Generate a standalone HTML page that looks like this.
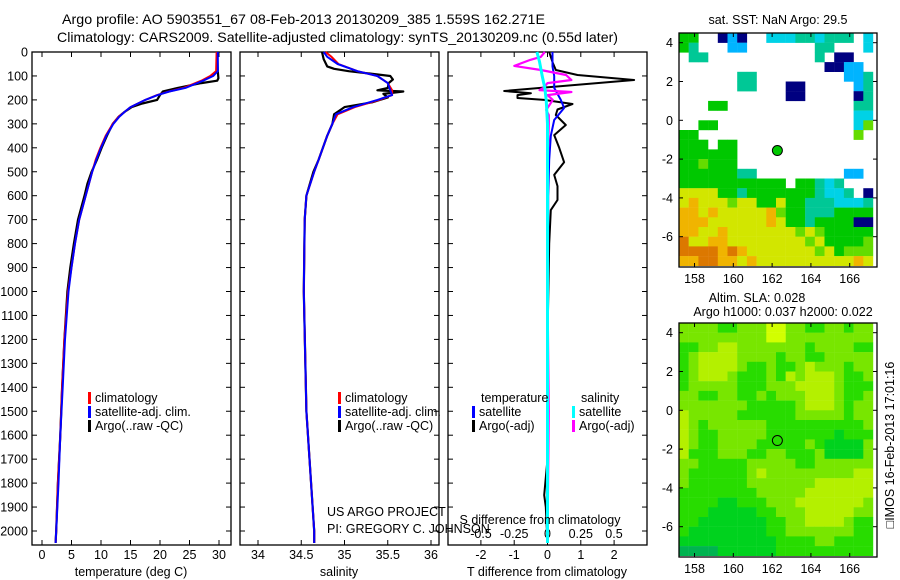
<!DOCTYPE html>
<html><head><meta charset="utf-8"><style>
body{margin:0;background:#fff;}
svg{display:block;font-family:"Liberation Sans",sans-serif;}
text{font-size:12.5px;fill:#000;}
</style></head><body>
<svg id="fig" width="900" height="580" viewBox="0 0 900 580" xmlns="http://www.w3.org/2000/svg">
<text x="62" y="24" textLength="483" lengthAdjust="spacingAndGlyphs" style="font-size:14px">Argo profile: AO 5903551_67 08-Feb-2013 20130209_385 1.559S 162.271E</text>
<text x="57" y="42" textLength="561" lengthAdjust="spacingAndGlyphs" style="font-size:14px">Climatology: CARS2009. Satellite-adjusted climatology: synTS_20130209.nc (0.55d later)</text>
<g id="panels"></g>
<text x="131" y="576" text-anchor="middle">temperature (deg C)</text>
<text x="339" y="576" text-anchor="middle">salinity</text>
<text x="547" y="576" text-anchor="middle">T difference from climatology</text>
<text x="540" y="524" text-anchor="middle">S difference from climatology</text>
<text x="327" y="516">US ARGO PROJECT</text>
<text x="327" y="533">PI: GREGORY C. JOHNSON</text>
<text x="778" y="24" text-anchor="middle">sat. SST: NaN Argo: 29.5</text>
<text x="757" y="302" text-anchor="middle">Altim. SLA: 0.028</text>
<text x="783" y="316" text-anchor="middle">Argo h1000: 0.037 h2000: 0.022</text>
<text transform="translate(894,445) rotate(-90)" text-anchor="middle">□IMOS 16-Feb-2013 17:01:16</text>
</svg>
<script>
// ---- profile data (depth in m) ----
const argoTDepth=[0,80,110,120,130,150,165,180,200,215,230,250,270,300,350,400,450,500,550,600,700,800,900,1000,1200,1400,1600,1800,2000,2050];
const argoT=[29.7,29.8,29.9,29.7,27,23,20.5,20,19.5,17,15.2,14,13,12,11,10.1,9.3,8.4,7.7,7.2,6.1,5.4,4.8,4.3,3.8,3.4,3.1,2.7,2.4,2.3];
const climTDepth=[0,80,100,120,150,165,180,200,230,250,270,300,350,400,450,500,600,700,800,900,1000,1200,1400,1600,1800,2000,2050];
const climT=[29.6,29.5,28.5,27,24,21.5,19.5,17.5,15,14,13,12,10.8,9.9,9.1,8.5,7.4,6.3,5.6,5.0,4.4,3.8,3.4,3.1,2.7,2.4,2.3];
const satT=[29.8,29.8,29,27.3,24.3,21.6,19.6,17.5,15,14,13.1,12.1,10.9,10,9.2,8.5,7.4,6.3,5.6,5.0,4.5,3.9,3.5,3.1,2.8,2.4,2.3];
const argoSDepth=[0,30,60,70,80,90,100,115,130,150,160,165,175,190,210,230,260,300,350,400,450,500,550,600,700,1000,1500,2000,2050];
const argoS=[34.74,34.76,34.8,34.88,35.05,35.3,35.53,35.56,35.51,35.5,35.38,35.68,35.45,35.5,35.32,35.0,34.88,34.86,34.8,34.75,34.7,34.64,34.6,34.56,34.54,34.53,34.56,34.65,34.65];
const climSDepth=[0,20,50,80,100,130,160,180,200,230,260,300,350,400,450,500,600,700,1000,1500,2000,2050];
const climS=[34.78,34.85,34.93,35.15,35.38,35.5,35.55,35.55,35.4,35.12,34.92,34.86,34.8,34.75,34.7,34.65,34.56,34.54,34.53,34.56,34.65,34.65];
const satS=[34.76,34.8,34.92,35.15,35.38,35.5,35.53,35.55,35.38,35.1,34.9,34.86,34.8,34.75,34.7,34.65,34.56,34.54,34.53,34.56,34.65,34.65];
// differences
const dTArgoDepth=[0,42,75,96,117,163,172,180,192,200,217,240,263,305,347,400,460,513,560,618,660,800,1200,1700,1850,1900,2050];
const dTArgo=[0.05,0.15,0.25,0.9,2.6,-1.3,-0.5,-0.9,-0.9,-0.1,0.75,0.3,0.25,0.55,0.2,0.35,0.5,0.2,0.3,0.3,0.1,0.05,0.0,0.0,-0.1,-0.05,0.0];
const dTSatDepth=[0,60,100,150,200,234,284,350,450,600,2050];
const dTSat=[0.15,0.15,0.2,0.2,0.4,0.5,0.2,0.1,0.05,0.02,0.0];
const dSArgoDepth=[0,20,33,58,75,96,117,130,150,159,167,180,200,242,263,300,500,1000,1500,2050];
const dSArgo=[-0.02,-0.05,-0.13,-0.25,-0.05,0.14,0.18,0.0,-0.03,-0.06,0.18,0.0,0.04,-0.01,0.01,0.01,0.0,0.0,0.01,0.0];
const dSSatDepth=[0,40,100,150,200,300,2050];
const dSSat=[-0.08,-0.06,-0.04,-0.02,-0.01,0.0,0.0];
const depthTicks=[0,100,200,300,400,500,600,700,800,900,1000,1100,1200,1300,1400,1500,1600,1700,1800,1900,2000];
const tTicks=[0,5,10,15,20,25,30];
const sTicks=[34,34.5,35,35.5,36];
const dtTicks=[-2,-1,0,1,2];
const dsTicks=[-0.5,-0.25,0,0.25,0.5];
// ---- map data: 20 cols (157.2..167.2E, 0.5deg) x 24 rows (4.5..-7.5N) ----
const sstGrid=[
"gg..nbn..cccttcttt.c","gt...bb.......tt...c",".tt...........t.nn..","...............nnbb.",
"......tt.........bbt","......tt...nn.....bt","...........nn.....nt","...gg.............tt",
"..................cc","..gg..............cl","gg................l.","ggg.gg..............",
"gggggg..............","gglggg..............","ggggggtt.........bb.","ggggggggggg.ggtct...",
"yyyyggtgggggggtcct.n","yoyyylyyggyggtttccct","ooyoyyyyyolggtttgggg","oooyyyyyyoyggtggggnn",
"ooyyoyyyyyyylylggggg","ryyooyyyyyyyylyggggl","rrrroroyyyyyyylyglll","oorrooyoyyyyyyyyyyoy"];
const slaGrid=[
"llllgglllYYllggllgll","lllllllllYYlllllllll","ggllyylllllllgllllgg","glyyyyllllgllgglllll",
"glyyyylgglgglylllgll","glyyylggglgylyyylggl","glllllggglllyyyylggg","llggllgglglllyyylggl",
"lllllllggggglyyylgll","ylllllgggggglllllgll","ylgllllllggggggggggl","ylgglllllgggggggdggg",
"ylggllllggggglgddddl","yggglllggllggglddddl","llggggglllllgglllllly","lgggggglylllllllllyy",
"lgggggglllllllyyyyyy","gggggggglllllyyyyyyy","ggggddggglllyyyyyyyl","gggdddddgglllyyyyyll",
"ggdddddddggllyyyylgg","gddddddddgglllllllgg","ddddddddddggggllgggg","DDDDddddddgggggggggg"];
const floatLon=162.271, floatLat=-1.559;
const lonTicks=[158,160,162,164,166];
const latTicks=[4,2,0,-2,-4,-6];

const NS='http://www.w3.org/2000/svg';
const G=document.getElementById('panels');
function mk(tag,attrs,parent){const e=document.createElementNS(NS,tag);for(const k in attrs)e.setAttribute(k,attrs[k]);(parent||G).appendChild(e);return e;}
const top0=52,bot=545,pxPerM=0.2395;
const yD=d=>top0+d*pxPerM;
function panel(name,x0,x1,xf,ticksX,labels,showDepth){
  const g=mk('g',{});
  
  
  const r=mk('rect',{x:x0,y:top0,width:x1-x0,height:bot-top0,fill:'none',stroke:'#000','stroke-width':1.3},g);
  
  
  depthTicks.forEach(d=>{
    mk('line',{x1:x0,x2:x0+5,y1:yD(d),y2:yD(d),stroke:'#000'},g);
    mk('line',{x1:x1-5,x2:x1,y1:yD(d),y2:yD(d),stroke:'#000'},g);
    if(showDepth){const t=mk('text',{x:x0-4,y:yD(d)+4.5,'text-anchor':'end'},g);t.textContent=d;
      
      }
  });
  ticksX.forEach(v=>{const x=xf(v);
    mk('line',{x1:x,x2:x,y1:top0,y2:top0+5,stroke:'#000'},g);
    mk('line',{x1:x,x2:x,y1:bot-5,y2:bot,stroke:'#000'},g);
    if(labels){const t=mk('text',{x:x,y:559,'text-anchor':'middle'},g);t.textContent=v;
      
      }
  });
  return g;
}
function line(g,name,xs,ds,xf,color,w){
  const p=xs.map((v,i)=>xf(v).toFixed(1)+','+yD(ds[i]).toFixed(1)).join(' ');
  const l=mk('polyline',{points:p,fill:'none',stroke:color,'stroke-width':w,'stroke-linejoin':'round'},g);
  
  
}
function legend(g,x,y,items){
  items.forEach((it,i)=>{
    mk('rect',{x:x,y:y+i*14-10,width:3,height:12,fill:it[1]},g);
    const t=mk('text',{x:x+7,y:y+i*14},g);t.textContent=it[0];
    
    
  });
}
// panel 1
const xT=v=>42+v*5.9;
let g1=panel('temperature-panel',32,231,xT,tTicks,true,true);
line(g1,'argo-temperature',argoT,argoTDepth,xT,'#000',2.2);
line(g1,'clim-temperature',climT,climTDepth,xT,'#f00',2);
line(g1,'sat-temperature',satT,climTDepth,xT,'#00f',2);
legend(g1,88,402,[['climatology','#f00'],['satellite-adj. clim.','#00f'],['Argo(..raw -QC)','#000']]);
// panel 2
const xS=v=>258+(v-34)*86.5;
let g2=panel('salinity-panel',240,439,xS,sTicks,true,false);
line(g2,'argo-salinity',argoS,argoSDepth,xS,'#000',2.2);
line(g2,'clim-salinity',climS,climSDepth,xS,'#f00',2);
line(g2,'sat-salinity',satS,climSDepth,xS,'#00f',2);
legend(g2,338,402,[['climatology','#f00'],['satellite-adj. clim.','#00f'],['Argo(..raw -QC)','#000']]);
// panel 3
const xdT=v=>547.5+v*33.3, xdS=v=>547.5+v*133;
let g3=panel('difference-panel',448,647,xdT,dtTicks,true,false);
dsTicks.forEach(v=>{const t=mk('text',{x:xdS(v),y:538,'text-anchor':'middle'},g3);t.textContent=v;
  
  });
line(g3,'argo-t-diff',dTArgo,dTArgoDepth,xdT,'#000',2);
line(g3,'sat-t-diff',dTSat,dTSatDepth,xdT,'#00f',2);
line(g3,'argo-s-diff',dSArgo,dSArgoDepth,xdS,'#f0f',2.2);
line(g3,'sat-s-diff',dSSat,dSSatDepth,xdS,'#0ff',3);
let t3=mk('text',{x:481,y:402},g3);t3.textContent='temperature';


t3=mk('text',{x:581,y:402},g3);t3.textContent='salinity';


legend(g3,472,416,[['satellite','#00f'],['Argo(-adj)','#000']]);
legend(g3,572,416,[['satellite','#0ff'],['Argo(-adj)','#f0f']]);
// maps
const sstPal={g:'#00c800',G:'#00b450',t:'#00c896',c:'#00d2e6',b:'#00b4ff',n:'#000080',l:'#64dc00',y:'#d2e600',Y:'#f0e600',o:'#f0b400',r:'#dc7800'};
const slaPal={g:'#28dc00',l:'#78e600',y:'#b4f000',Y:'#d2ff00',d:'#00d21e',D:'#00b450'};
function map(name,y0,grid,pal,filled){
  const x0=679,x1=877,y1=y0+234;
  const lonX=v=>x0+(v-157.2)*19.4, latY=v=>y0+(4.5-v)*19.4;
  const g=mk('g',{});
  
  
  grid.forEach((row,r)=>{for(let c=0;c<row.length&&c<20;c++){const ch=row[c];if(ch==='.')continue;
    const lo=157.2+c*0.5, la=4.5-r*0.5;
    const rc=mk('rect',{x:lonX(lo).toFixed(1),y:latY(la).toFixed(1),width:9.9,height:9.9,fill:pal[ch]},g);
    
    }});
  const fr=mk('rect',{x:x0,y:y0,width:x1-x0,height:y1-y0,fill:'none',stroke:'#000','stroke-width':1.3},g);
  
  
  lonTicks.forEach(v=>{const x=lonX(v);mk('line',{x1:x,x2:x,y1:y0,y2:y0+4,stroke:'#000'},g);mk('line',{x1:x,x2:x,y1:y1-4,y2:y1,stroke:'#000'},g);
    const t=mk('text',{x:x,y:y1+16,'text-anchor':'middle'},g);t.textContent=v;
    
    });
  latTicks.forEach(v=>{const y=latY(v);mk('line',{x1:x0,x2:x0+4,y1:y,y2:y,stroke:'#000'},g);mk('line',{x1:x1-4,x2:x1,y1:y,y2:y,stroke:'#000'},g);
    const t=mk('text',{x:x0-6,y:y+4.5,'text-anchor':'end'},g);t.textContent=v;
    
    });
  const ci=mk('circle',{cx:lonX(floatLon),cy:latY(floatLat),r:5,fill:filled?'#00c800':'none',stroke:'#000','stroke-width':1},g);
  
  
}
map('sst-map',33,sstGrid,sstPal,true);
map('sla-map',323,slaGrid,slaPal,false);
</script>
</body></html>
